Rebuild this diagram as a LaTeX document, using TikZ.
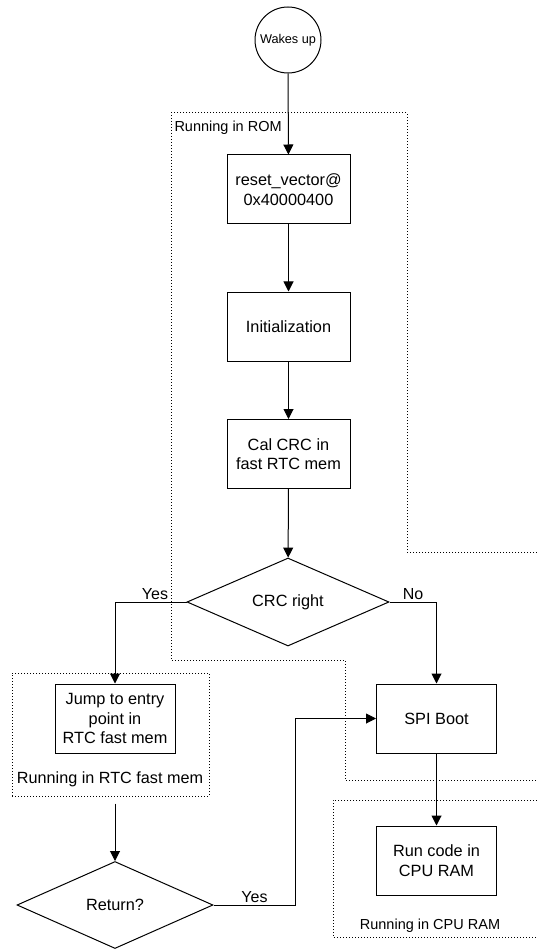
\documentclass[tikz,border=0pt]{standalone}
\usepackage{fontspec}
\setmainfont{Liberation Sans}
\usetikzlibrary{arrows.meta,chains,positioning,shapes.geometric,scopes}
\tikzset{>={Triangle[width=10pt,length=10pt]},
         every join/.style={->},
         stepbox/.style={draw, rectangle, minimum width=123pt, minimum height=69pt,
                         align=center, font=\fontsize{16.3pt}{19.4pt}\selectfont},
         decide/.style={draw, diamond, aspect=2.3, inner sep=0pt,
                        font=\fontsize{16.3pt}{19.4pt}\selectfont},
         group/.style={draw, dash pattern=on 1pt off 2pt, line width=1pt},
         grouplabel/.style={font=\fontsize{14.5pt}{17pt}\selectfont, inner sep=0pt},
         answer/.style={font=\fontsize{16pt}{19pt}\selectfont, inner sep=2pt}}

\begin{document}
\begin{tikzpicture}[x=1pt, y=-1pt, line width=1pt]
  \useasboundingbox (0,0) rectangle (537,949);
  % groups
  \draw[group] (537,552) -| (407,113) -- (171,113) -- (171,660)
    -- (345,660) -- (345,780) -- (537,780);
  \node[grouplabel, anchor=west] (romlbl) at (174,128) {Running in ROM};
  \node[group, minimum width=197pt, minimum height=123pt] (rtcgroup) at (110.5,734.5) {};
  \node[grouplabel, font=\fontsize{16.2pt}{19pt}\selectfont] (rtclbl) at (110,779) {Running in RTC fast mem};
  \draw[group] (537,800) -| (333,937) -- (537,937);
  \node[grouplabel] (cpulbl) at (430,926) {Running in CPU RAM};
  % nodes
  \node[draw, circle, minimum size=66pt, inner sep=0pt, font=\fontsize{12.7pt}{15pt}\selectfont]
    (wake) at (288,40) {Wakes up};
  \node[stepbox] (reset) at (288.5,189.5) {reset\_vector@\\0x40000400};
  \node[stepbox] (init) at (288.5,326.5) {Initialization};
  \node[stepbox] (calcrc) at (288.5,454) {Cal CRC in\\fast RTC mem};
  \node[decide, minimum width=202pt, minimum height=88pt] (crc) at (288,602) {CRC right};
  \node[stepbox, minimum width=120pt] (jump) at (115,718.5) {Jump to entry\\point in\\RTC fast mem};
  \node[stepbox, minimum width=120pt] (spi) at (436.5,718.5) {SPI Boot};
  \node[stepbox, minimum width=120pt] (runcode) at (436.5,860.5) {Run code in\\CPU RAM};
  \node[decide, minimum width=196pt, minimum height=87pt] (ret) at (115,905) {Return?};
  % connectors
  { [start chain]
    \chainin (wake);
    \chainin (reset) [join];
    \chainin (init) [join];
    \chainin (calcrc) [join];
    \chainin (crc) [join];}
  { [start chain]
    \chainin (spi);
    \chainin (runcode) [join];}
  \draw[->] (crc.west) -| node[answer, pos=0.22, above] {Yes} (jump);
  \draw[->] (crc.east) -| node[answer, pos=0.25, above] {No} (spi);
  \draw[->, shorten <=7pt] (rtcgroup.south -| ret.north) -- (ret);
  \draw[->] (ret.east) -- node[answer, above] {Yes} ++(82,0) |- (spi);
\end{tikzpicture}
\end{document}
